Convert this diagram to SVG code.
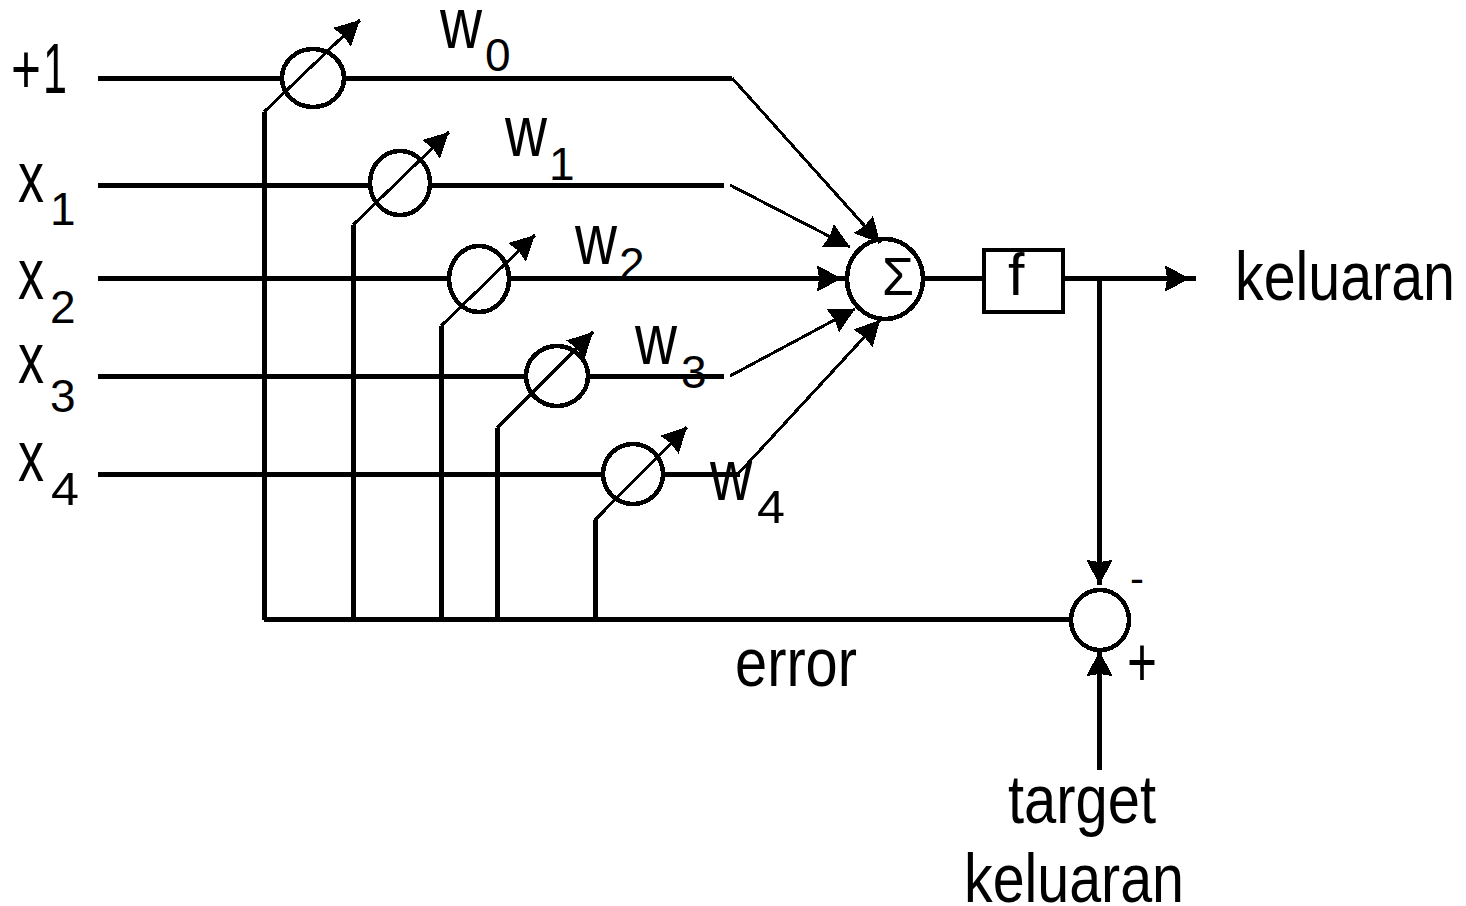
<svg xmlns="http://www.w3.org/2000/svg" width="1466" height="906" viewBox="0 0 1466 906">
<defs>
<marker id="a" markerUnits="userSpaceOnUse" markerWidth="26" markerHeight="28" viewBox="0 0 26 28" refX="25" refY="14" orient="auto"><path d="M0 1L25 14L0 27L2 14Z" fill="#000" shape-rendering="crispEdges"/></marker>
</defs>
<style>
.l{fill:none;stroke:#000;stroke-width:5;shape-rendering:crispEdges}
.t{fill:none;stroke:#000;stroke-width:3;shape-rendering:crispEdges}
.c{fill:none;stroke:#000;stroke-width:4.5;shape-rendering:crispEdges}
text{font-family:"Liberation Sans",Arial,sans-serif;fill:#000;font-size:68px}
.s{font-size:46px}
.w{font-size:73px}
</style>
<rect width="1466" height="906" fill="#fff"/>
<g id="connectors">
<path class="l" d="M98 78H282M344 78H732"/><path class="t" d="M732 78L880 243" marker-end="url(#a)"/>
<path class="l" d="M98 185.500H369M430 185.500H724"/><path class="t" d="M730 185L850 247" marker-end="url(#a)"/>
<path class="l" d="M98 278.500H450"/><path class="l" d="M510 278.500H842" marker-end="url(#a)"/><path class="l" d="M838 278.500H846"/>
<path class="l" d="M98 376.500H527M589 376.500H724"/><path class="t" d="M730 376L855 309" marker-end="url(#a)"/>
<path class="l" d="M98 474.500H603M663 474.500H740"/><path class="t" d="M738 474L880 320" marker-end="url(#a)"/>
<path class="l" d="M264 620V112M353 620V225M441 620V326M497 620V428M595 620V520"/>
<path class="l" d="M264 619.500H1070"/>
<path class="t" d="M264 112L360 20" marker-end="url(#a)"/>
<path class="t" d="M353 225L449 132" marker-end="url(#a)"/>
<path class="t" d="M441 326L535 235" marker-end="url(#a)"/>
<path class="t" d="M497 428L593 332" marker-end="url(#a)"/>
<path class="t" d="M595 520L687 427" marker-end="url(#a)"/>
<path class="l" d="M925 278.500H984"/>
<path class="l" d="M1063 278.500H1190" marker-end="url(#a)"/><path class="l" d="M1185 278.500H1196"/>
<path class="l" d="M1099.500 278V585" marker-end="url(#a)"/>
<path class="l" d="M1099.500 770V651" marker-end="url(#a)"/>
</g>
<g id="w0-node"><ellipse class="c" cx="313" cy="78" rx="31" ry="29"/></g>
<g id="w1-node"><ellipse class="c" cx="400" cy="183" rx="30" ry="32"/></g>
<g id="w2-node"><ellipse class="c" cx="479" cy="279" rx="30" ry="33"/></g>
<g id="w3-node"><ellipse class="c" cx="557" cy="376" rx="31" ry="30"/></g>
<g id="w4-node"><ellipse class="c" cx="633" cy="474" rx="30" ry="30"/></g>
<g id="sum"><ellipse class="c" cx="885" cy="279" rx="38" ry="40"/><text x="882" y="295" style="font-size:54px" textLength="32" lengthAdjust="spacingAndGlyphs">Σ</text></g>
<g id="f"><rect class="c" x="984" y="250" width="79" height="62"/><text x="1008" y="295" style="font-size:59px">f</text></g>
<g id="err"><ellipse class="c" cx="1100" cy="620" rx="29" ry="30"/></g>
<g id="labels">
<text x="11" y="93" style="font-size:70px" textLength="30" lengthAdjust="spacingAndGlyphs">+</text>
<text x="43" y="93" style="font-size:70px" textLength="24" lengthAdjust="spacingAndGlyphs">1</text>
<text x="18" y="202" class="w" textLength="26" lengthAdjust="spacingAndGlyphs">x</text><text x="50" y="225" class="s">1</text>
<text x="18" y="299" class="w" textLength="26" lengthAdjust="spacingAndGlyphs">x</text><text x="50" y="323" class="s">2</text>
<text x="18" y="383" class="w" textLength="26" lengthAdjust="spacingAndGlyphs">x</text><text x="50" y="412" class="s">3</text>
<text x="18" y="481" class="w" textLength="26" lengthAdjust="spacingAndGlyphs">x</text><text x="51" y="505" class="s" textLength="28" lengthAdjust="spacingAndGlyphs">4</text>
<text x="440" y="48" class="w" textLength="42" lengthAdjust="spacingAndGlyphs">w</text><text x="485" y="71" class="s">0</text>
<text x="505" y="156" class="w" textLength="42" lengthAdjust="spacingAndGlyphs">w</text><text x="549" y="180" class="s">1</text>
<text x="575" y="264" class="w" textLength="42" lengthAdjust="spacingAndGlyphs">w</text><text x="619" y="280" class="s">2</text>
<text x="635" y="364" class="w" textLength="42" lengthAdjust="spacingAndGlyphs">w</text><text x="681" y="388" class="s">3</text>
<text x="710" y="500" class="w" textLength="42" lengthAdjust="spacingAndGlyphs">w</text><text x="757" y="523" class="s" textLength="28" lengthAdjust="spacingAndGlyphs">4</text>
<text x="1235" y="300" textLength="220" lengthAdjust="spacingAndGlyphs">keluaran</text>
<text x="735" y="686" textLength="122" lengthAdjust="spacingAndGlyphs">error</text>
<text x="1130" y="593" style="font-size:42px">-</text>
<text x="1127" y="686" style="font-size:70px" textLength="30" lengthAdjust="spacingAndGlyphs">+</text>
<text x="1008" y="823" textLength="148" lengthAdjust="spacingAndGlyphs">target</text>
<text x="964" y="902" textLength="220" lengthAdjust="spacingAndGlyphs">keluaran</text>
</g>
</svg>
